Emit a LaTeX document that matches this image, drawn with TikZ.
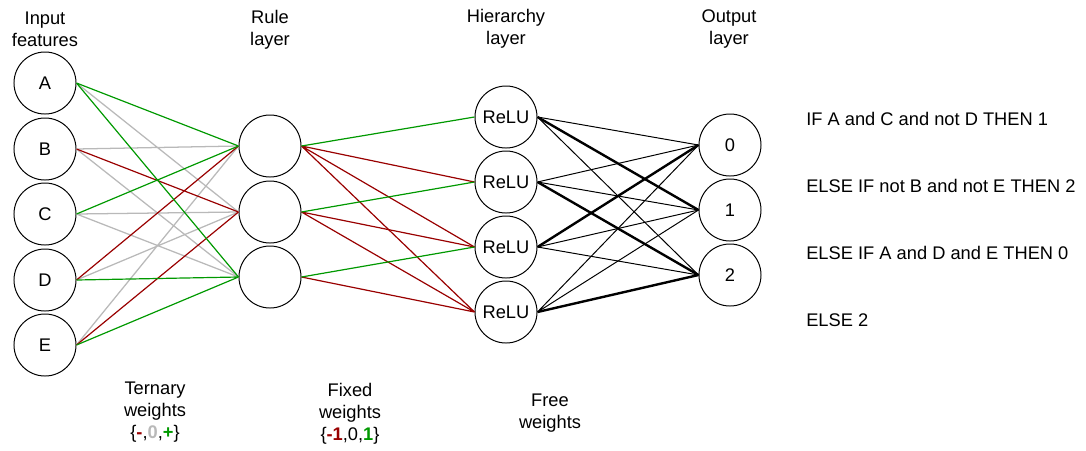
\documentclass[tikz,border=0pt]{standalone}
\usepackage{fontspec}
\setmainfont{Liberation Sans}
\definecolor{posgreen}{RGB}{0,153,0}
\definecolor{negred}{RGB}{153,0,0}
\definecolor{zerogrey}{RGB}{185,185,185}
\begin{document}
\begin{tikzpicture}[x=0.025cm, y=-0.025cm]
  \tikzstyle{neuron} = [circle, draw, line width = 0.7pt, minimum size = 1.55cm, inner sep = 0pt, font = \fontsize{13}{15.6}\selectfont]
  \tikzstyle{lbl} = [align = center, inner sep = 0pt, font = \fontsize{13}{15.6}\selectfont]
  \tikzstyle{poswt} = [posgreen, line width = 0.85pt]
  \tikzstyle{negwt} = [negred, line width = 0.85pt]
  \tikzstyle{zerowt} = [zerogrey, line width = 0.9pt]
  \tikzstyle{freewt} = [black, line width = 0.7pt]
  \tikzstyle{boldwt} = [black, line width = 1.7pt]

  \useasboundingbox (0,0) rectangle (1086,450);

  % input features
  \node [neuron] at (45,83) (A) {A};
  \node [neuron] at (45,149) (B) {B};
  \node [neuron] at (45,214) (C) {C};
  \node [neuron] at (45,280) (D) {D};
  \node [neuron] at (45,345) (E) {E};

  % rule layer
  \node [neuron] at (270,146) (r1) {};
  \node [neuron] at (270,212) (r2) {};
  \node [neuron] at (270,277) (r3) {};

  % hierarchy layer
  \node [neuron] at (506,117) (h1) {ReLU};
  \node [neuron] at (506,182) (h2) {ReLU};
  \node [neuron] at (506,247) (h3) {ReLU};
  \node [neuron] at (506,312) (h4) {ReLU};

  % output layer
  \node [neuron] at (730,145) (o0) {0};
  \node [neuron] at (730,210) (o1) {1};
  \node [neuron] at (730,275) (o2) {2};

  \node [lbl] at (45,29) (t_input) {Input\\features};
  \node [lbl] at (270,30) (t_rule) {Rule\\layer};
  \node [lbl] at (506,29) (t_hier) {Hierarchy\\layer};
  \node [lbl] at (729,29) (t_out) {Output\\layer};

  \node [lbl] at (155,412) (w_tern) {Ternary\\weights\\\{\textcolor{negred}{\textbf{-}},\textcolor{zerogrey}{\textbf{0}},\textcolor{posgreen}{\textbf{+}}\}};
  \node [lbl] at (350,414) (w_fixed) {Fixed\\weights\\\{\textcolor{negred}{\textbf{-1}},0,\textcolor{posgreen}{\textbf{1}}\}};
  \node [lbl] at (550,413) (w_free) {Free\\weights};

  \node [lbl, anchor = west] at (806,119) (rule1) {IF A and C and not D THEN 1};
  \node [lbl, anchor = west] at (806,186) (rule2) {ELSE IF not B and not E THEN 2};
  \node [lbl, anchor = west] at (806,253) (rule3) {ELSE IF A and D and E THEN 0};
  \node [lbl, anchor = west] at (806,320) (rule4) {ELSE 2};

  % ternary weights
  \draw[zerowt] (A.east) -- (r2.west) (B.east) -- (r1.west) (B.east) -- (r3.west);
  \draw[zerowt] (C.east) -- (r2.west) (C.east) -- (r3.west);
  \draw[zerowt] (D.east) -- (r2.west) (E.east) -- (r1.west);
  \draw[negwt] (B.east) -- (r2.west) (D.east) -- (r1.west) (E.east) -- (r2.west);
  \draw[poswt] (A.east) -- (r1.west) (A.east) -- (r3.west) (C.east) -- (r1.west);
  \draw[poswt] (D.east) -- (r3.west) (E.east) -- (r3.west);

  % fixed weights
  \draw[negwt] (r1.east) -- (h2.west) (r1.east) -- (h3.west) (r1.east) -- (h4.west);
  \draw[negwt] (r2.east) -- (h3.west) (r2.east) -- (h4.west) (r3.east) -- (h4.west);
  \draw[poswt] (r1.east) -- (h1.west) (r2.east) -- (h2.west) (r3.east) -- (h3.west);

  % free weights
  \draw[freewt] (h1.east) -- (o0.west) (h1.east) -- (o2.west);
  \draw[freewt] (h2.east) -- (o0.west) (h2.east) -- (o1.west);
  \draw[freewt] (h3.east) -- (o1.west) (h3.east) -- (o2.west);
  \draw[freewt] (h4.east) -- (o0.west) (h4.east) -- (o1.west);
  \draw[boldwt] (h1.east) -- (o1.west) (h2.east) -- (o2.west);
  \draw[boldwt] (h3.east) -- (o0.west) (h4.east) -- (o2.west);
\end{tikzpicture}
\end{document}
